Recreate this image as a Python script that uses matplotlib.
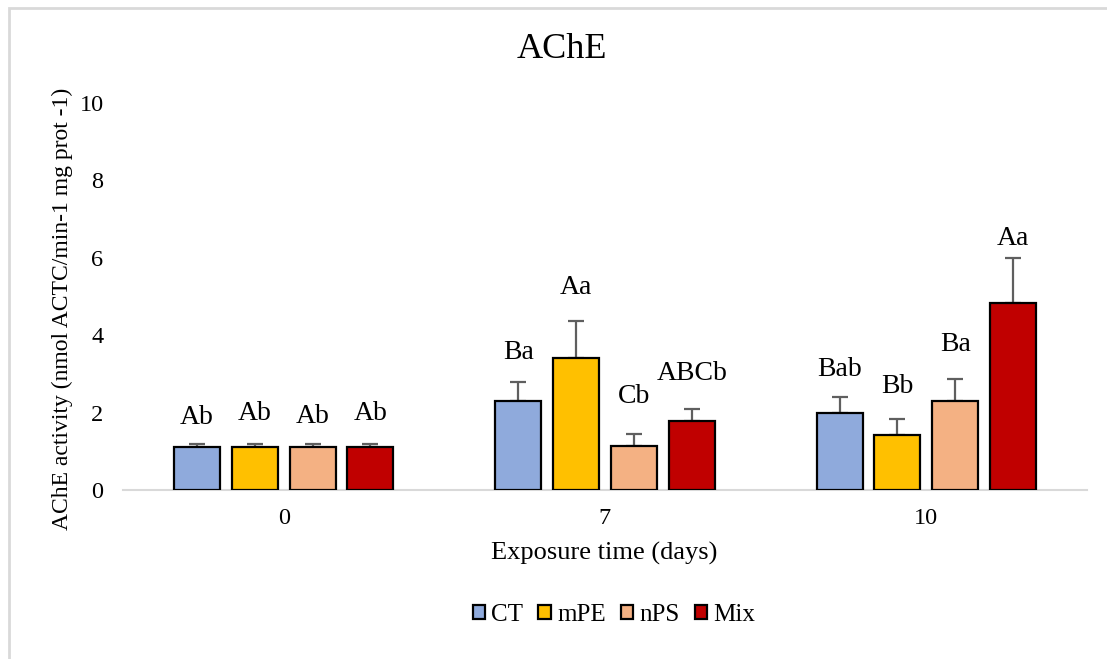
import matplotlib
matplotlib.use("Agg")
import matplotlib.pyplot as plt
from matplotlib.patches import Rectangle
import numpy as np

plt.rcParams["font.family"] = ["Liberation Serif", "DejaVu Serif"]

# Data
days = ["0", "7", "10"]
treatments = ["CT", "mPE", "nPS", "Mix"]
colors = ["#8FAADC", "#FFC000", "#F4B183", "#C00000"]

ct_mean = [1.10, 2.29, 2.00]
mpe_mean = [1.10, 3.40, 1.42]
nps_mean = [1.10, 1.14, 2.29]
mix_mean = [1.10, 1.78, 4.82]

ct_sd = [0.10, 0.51, 0.41]
mpe_sd = [0.10, 0.96, 0.41]
nps_sd = [0.10, 0.30, 0.57]
mix_sd = [0.10, 0.31, 1.18]

ct_letters = ["Ab", "Ba", "Bab"]
mpe_letters = ["Ab", "Aa", "Bb"]
nps_letters = ["Ab", "Cb", "Ba"]
mix_letters = ["Ab", "ABCb", "Aa"]

means = [ct_mean, mpe_mean, nps_mean, mix_mean]
sds = [ct_sd, mpe_sd, nps_sd, mix_sd]
letters = [ct_letters, mpe_letters, nps_letters, mix_letters]

# gap (pixels) between each error-bar cap and its letter label, per treatment/day
label_gap = [[20, 23, 21], [24, 27, 26], [21, 31, 28], [24, 29, 13]]

fig = plt.figure(figsize=(11.07, 6.59), dpi=100)
ax = fig.add_axes([123 / 1107, 1 - 490 / 659, (1087 - 123) / 1107, (490 - 103) / 659])

x = np.arange(len(days))
width = 0.143
step = 0.18
offsets = (np.arange(len(treatments)) - 1.5) * step

for i, name in enumerate(treatments):
    xpos = x + offsets[i]
    ax.bar(xpos, means[i], width, color=colors[i], edgecolor="black",
           linewidth=1.6, label=name, zorder=3)
    ax.errorbar(xpos, means[i], yerr=[np.zeros(len(days)), sds[i]], fmt="none",
                ecolor="#5f5f5f", elinewidth=1.6, capsize=6, capthick=1.6, zorder=2)
    for j in range(len(days)):
        ax.annotate(letters[i][j], (xpos[j], means[i][j] + sds[i][j]),
                    xytext=(0, label_gap[i][j]), textcoords="offset pixels",
                    ha="center", va="baseline", fontsize=20, color="black")

ax.set_xlim(-0.5, len(days) - 0.5)
ax.set_ylim(0, 10)
ax.set_yticks(range(0, 11, 2))
ax.set_xticks(x)
ax.set_xticklabels(days)
ax.tick_params(axis="both", length=0, labelsize=17.5)
ax.tick_params(axis="y", pad=14)
ax.tick_params(axis="x", pad=13)
for side in ["top", "right", "left"]:
    ax.spines[side].set_visible(False)
ax.spines["bottom"].set_color("#d9d9d9")
ax.spines["bottom"].set_linewidth(1.5)
ax.spines["bottom"].set_zorder(1)

fig.text(562 / 1107, 1 - 50 / 659, "AChE", ha="center", va="center", fontsize=26)
fig.text(604 / 1107, 1 - 553 / 659, "Exposure time (days)", ha="center", va="center",
         fontsize=19)
fig.text(62 / 1107, 1 - 309 / 659, "AChE activity (nmol ACTC/min-1 mg prot -1)",
         ha="center", va="center", rotation=90, fontsize=17)

fig.legend(loc="center", bbox_to_anchor=(614 / 1107, 1 - 615 / 659), ncol=4,
           frameon=False, fontsize=18, handlelength=0.5, handleheight=0.5,
           handletextpad=0.25, columnspacing=0.6)

# light chart-area border
fig.patches.append(Rectangle((9 / 1107, -0.1), 1.2, 1.1 - 8 / 659,
                             transform=fig.transFigure, fill=False,
                             edgecolor="#d9d9d9", linewidth=2))

fig.savefig("out.png", dpi=100)
